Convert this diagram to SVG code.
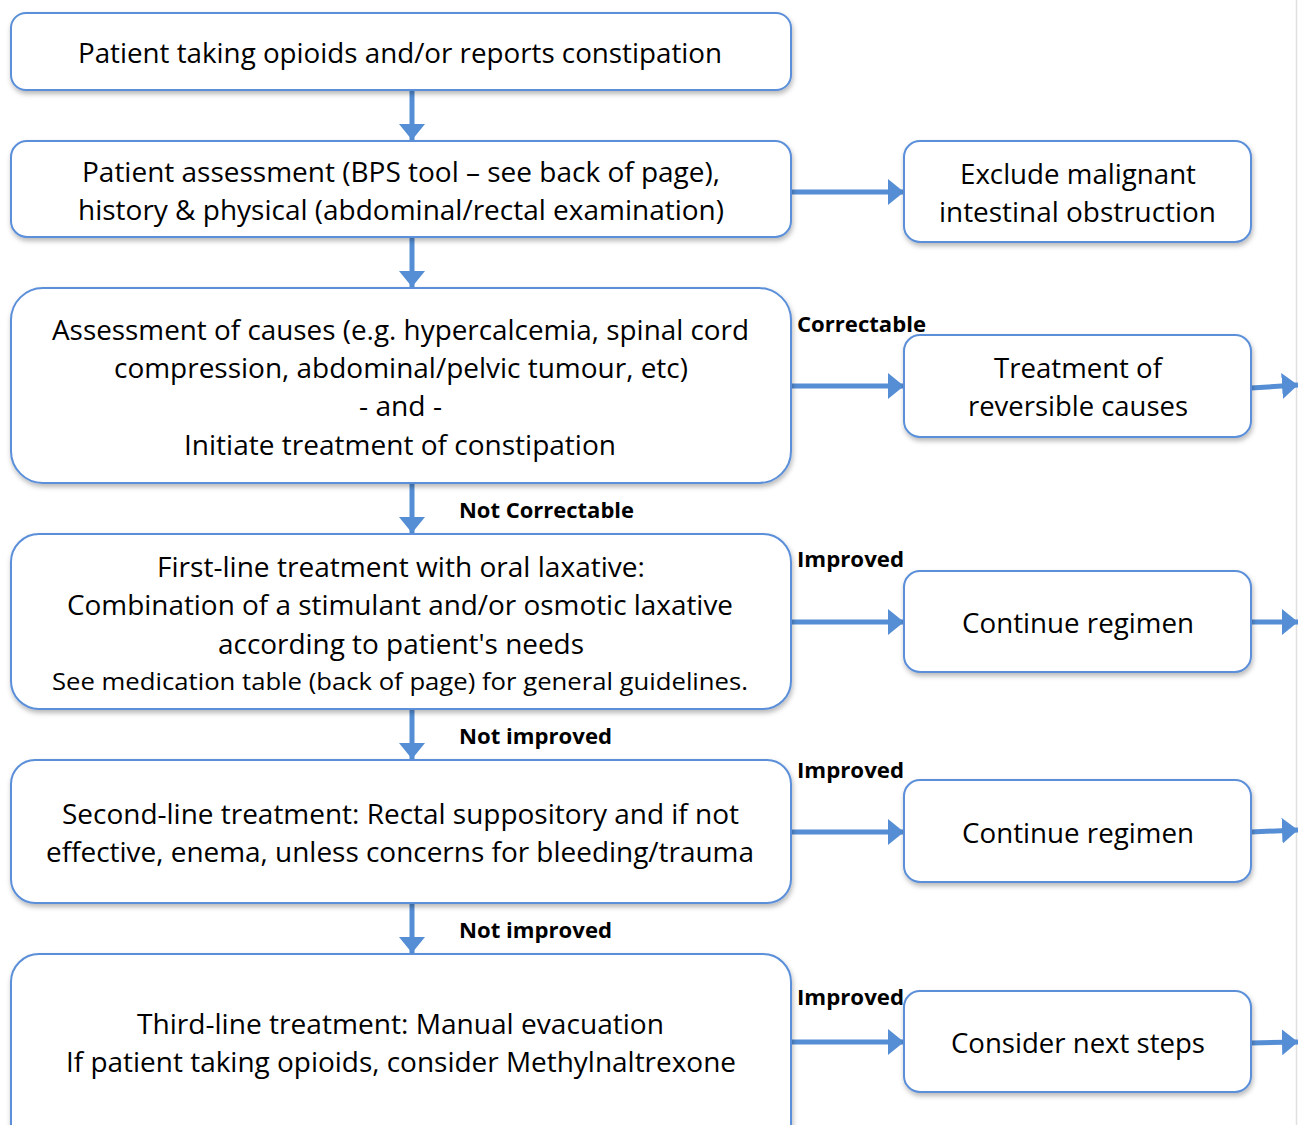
<svg xmlns="http://www.w3.org/2000/svg" width="1298" height="1125" viewBox="0 0 1298 1125">
<style>
.box{fill:#fff;stroke:#5b8fd9;stroke-width:2;filter:url(#sh)}
.t{font-family:"Open Sans","Liberation Sans",sans-serif;font-size:27px;fill:#000;text-anchor:middle}
.s{font-size:24px}
.l{font-family:"Open Sans","Liberation Sans",sans-serif;font-size:21px;font-weight:bold;fill:#000}
.c{stroke:#558ed5;stroke-width:5;fill:none}
</style>
<defs>
<filter id="sh" x="-5%" y="-10%" width="110%" height="130%">
<feDropShadow dx="1" dy="3" stdDeviation="2.5" flood-color="#000" flood-opacity="0.28"/>
</filter>
<marker id="ah" markerUnits="userSpaceOnUse" markerWidth="16" markerHeight="26" refX="16" refY="13" orient="auto">
<polygon points="0,0 16,13 0,26" fill="#558ed5"/>
</marker>
</defs>
<rect width="1298" height="1125" fill="#fff"/>
<line x1="1296.5" y1="0" x2="1296.5" y2="1125" stroke="#e0e0e0" stroke-width="1.5"/>
<g id="connectors">
<path class="c" d="M412 90V140" marker-end="url(#ah)"/>
<path class="c" d="M412 237V287" marker-end="url(#ah)"/>
<path class="c" d="M412 483V533" marker-end="url(#ah)"/>
<path class="c" d="M412 709V759" marker-end="url(#ah)"/>
<path class="c" d="M412 903V953" marker-end="url(#ah)"/>
<path class="c" d="M791 192H904" marker-end="url(#ah)"/>
<path class="c" d="M791 386H904" marker-end="url(#ah)"/>
<path class="c" d="M791 622H904" marker-end="url(#ah)"/>
<path class="c" d="M791 832H904" marker-end="url(#ah)"/>
<path class="c" d="M791 1042H904" marker-end="url(#ah)"/>
<path class="c" d="M1251 388L1298 385" marker-end="url(#ah)"/>
<path class="c" d="M1251 622H1298" marker-end="url(#ah)"/>
<path class="c" d="M1251 832L1298 830" marker-end="url(#ah)"/>
<path class="c" d="M1251 1043L1298 1042" marker-end="url(#ah)"/>
<text class="l" x="797" y="332" textLength="129" lengthAdjust="spacingAndGlyphs">Correctable</text>
<text class="l" x="459" y="518" textLength="175" lengthAdjust="spacingAndGlyphs">Not Correctable</text>
<text class="l" x="797" y="567" textLength="107" lengthAdjust="spacingAndGlyphs">Improved</text>
<text class="l" x="459" y="744" textLength="153" lengthAdjust="spacingAndGlyphs">Not improved</text>
<text class="l" x="797" y="778" textLength="107" lengthAdjust="spacingAndGlyphs">Improved</text>
<text class="l" x="459" y="938" textLength="153" lengthAdjust="spacingAndGlyphs">Not improved</text>
<text class="l" x="797" y="1005" textLength="107" lengthAdjust="spacingAndGlyphs">Improved</text>
</g>
<g id="n1">
<rect class="box" x="11" y="13" width="780" height="77" rx="15"/>
<text class="t" x="400" y="63" textLength="644" lengthAdjust="spacingAndGlyphs">Patient taking opioids and/or reports constipation</text>
</g>
<g id="n2">
<rect class="box" x="11" y="141" width="780" height="96" rx="16"/>
<text class="t" x="401" y="182" textLength="638" lengthAdjust="spacingAndGlyphs">Patient assessment (BPS tool – see back of page),</text>
<text class="t" x="401" y="220" textLength="646" lengthAdjust="spacingAndGlyphs">history &amp; physical (abdominal/rectal examination)</text>
</g>
<g id="n3">
<rect class="box" x="11" y="288" width="780" height="195" rx="32"/>
<text class="t" x="400.5" y="340" textLength="697" lengthAdjust="spacingAndGlyphs">Assessment of causes (e.g. hypercalcemia, spinal cord</text>
<text class="t" x="401" y="378" textLength="574" lengthAdjust="spacingAndGlyphs">compression, abdominal/pelvic tumour, etc)</text>
<text class="t" x="400.5" y="416" textLength="83" lengthAdjust="spacingAndGlyphs">- and -</text>
<text class="t" x="400" y="455" textLength="432" lengthAdjust="spacingAndGlyphs">Initiate treatment of constipation</text>
</g>
<g id="n4">
<rect class="box" x="11" y="534" width="780" height="175" rx="28"/>
<text class="t" x="401" y="577" textLength="488" lengthAdjust="spacingAndGlyphs">First-line treatment with oral laxative:</text>
<text class="t" x="400" y="615" textLength="666" lengthAdjust="spacingAndGlyphs">Combination of a stimulant and/or osmotic laxative</text>
<text class="t" x="401" y="654" textLength="366" lengthAdjust="spacingAndGlyphs">according to patient's needs</text>
<text class="t s" x="400" y="690" textLength="696" lengthAdjust="spacingAndGlyphs">See medication table (back of page) for general guidelines.</text>
</g>
<g id="n5">
<rect class="box" x="11" y="760" width="780" height="143" rx="24"/>
<text class="t" x="400.5" y="824" textLength="677" lengthAdjust="spacingAndGlyphs">Second-line treatment: Rectal suppository and if not</text>
<text class="t" x="400" y="862" textLength="708" lengthAdjust="spacingAndGlyphs">effective, enema, unless concerns for bleeding/trauma</text>
</g>
<g id="n6">
<rect class="box" x="11" y="954" width="780" height="200" rx="28"/>
<text class="t" x="400.5" y="1034" textLength="527" lengthAdjust="spacingAndGlyphs">Third-line treatment: Manual evacuation</text>
<text class="t" x="401" y="1072" textLength="670" lengthAdjust="spacingAndGlyphs">If patient taking opioids, consider Methylnaltrexone</text>
</g>
<g id="r1">
<rect class="box" x="904" y="141" width="347" height="101" rx="16"/>
<text class="t" x="1078" y="184" textLength="236" lengthAdjust="spacingAndGlyphs">Exclude malignant</text>
<text class="t" x="1077.5" y="222" textLength="277" lengthAdjust="spacingAndGlyphs">intestinal obstruction</text>
</g>
<g id="r2">
<rect class="box" x="904" y="335" width="347" height="102" rx="16"/>
<text class="t" x="1078" y="378" textLength="168" lengthAdjust="spacingAndGlyphs">Treatment of</text>
<text class="t" x="1078" y="416" textLength="220" lengthAdjust="spacingAndGlyphs">reversible causes</text>
</g>
<g id="r3">
<rect class="box" x="904" y="571" width="347" height="101" rx="16"/>
<text class="t" x="1078" y="633" textLength="232" lengthAdjust="spacingAndGlyphs">Continue regimen</text>
</g>
<g id="r4">
<rect class="box" x="904" y="780" width="347" height="102" rx="16"/>
<text class="t" x="1078" y="843" textLength="232" lengthAdjust="spacingAndGlyphs">Continue regimen</text>
</g>
<g id="r5">
<rect class="box" x="904" y="991" width="347" height="101" rx="16"/>
<text class="t" x="1078" y="1053" textLength="254" lengthAdjust="spacingAndGlyphs">Consider next steps</text>
</g>
</svg>
